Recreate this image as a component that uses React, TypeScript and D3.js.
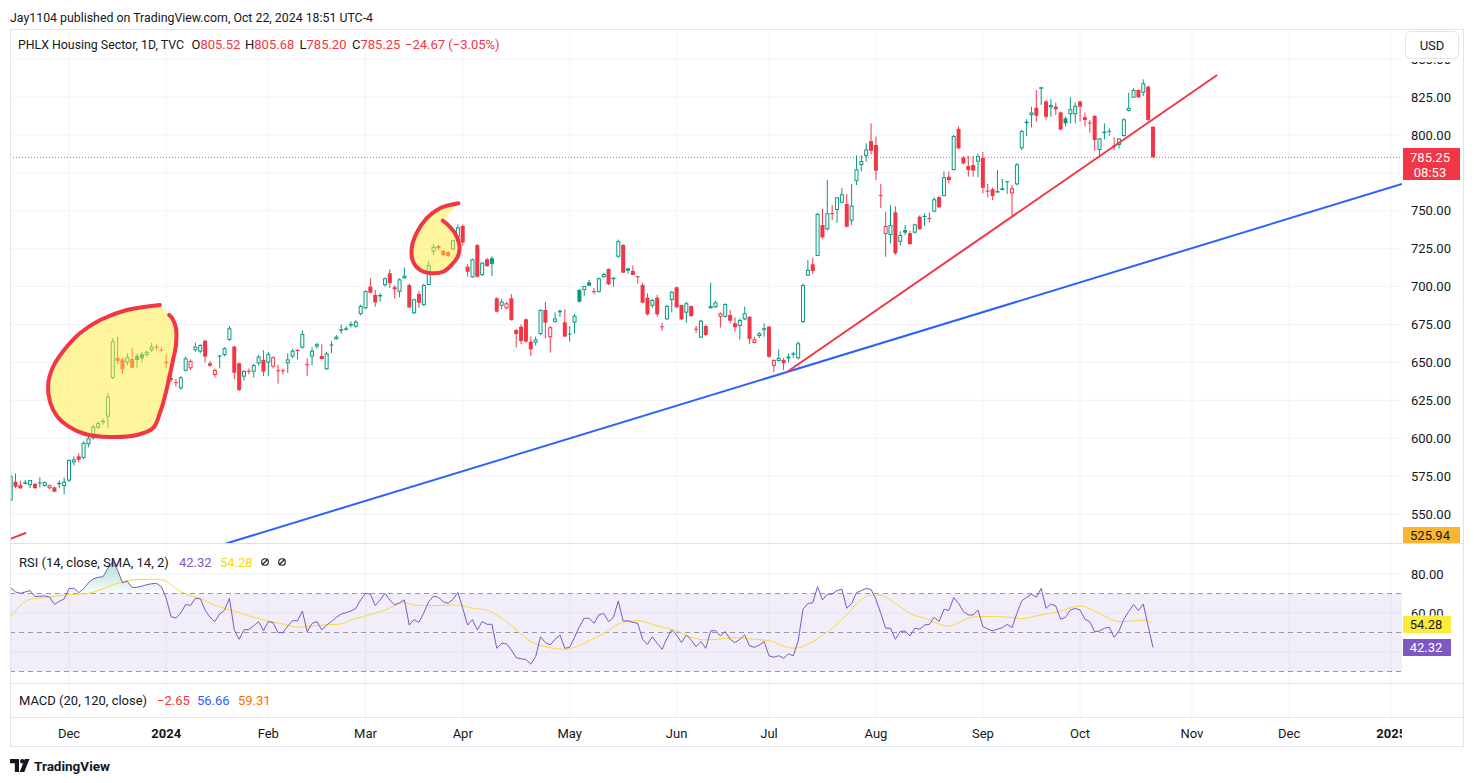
import React from 'react';
import * as d3 from 'd3';

// ---------- DATA ----------
// [open, high, low, close] per daily bar, first bar = Nov 14 2023, last = Oct 22 2024
const ohlc: [number, number, number, number][] = [
  [559, 578, 558, 575], [571.3, 576.8, 567, 568], [569, 572, 566.5, 567], [570.5, 572.4, 569.5, 570.9], [569, 572.6, 567, 572.4],
  [569.8, 570.5, 566.8, 567], [570.8, 574.2, 567.5, 570.6], [568.5, 571.5, 568, 571], [567, 569.5, 566.5, 569], [567.6, 568, 564.5, 564.7],
  [570.4, 572, 567, 570.6], [568.5, 574, 563, 571.3], [572, 586, 571, 585.6], [584, 588, 582, 586], [588, 590, 584, 585.8],
  [587, 598, 586, 597], [596, 602, 594, 600], [600, 609, 599, 607.6], [607, 611, 606, 610], [610.5, 613, 609, 611.5],
  [614.2, 629.8, 607, 627.4], [639.7, 666, 639, 664], [653, 667, 649, 651], [652, 653, 642.4, 645.5], [650, 656, 648, 653.4],
  [652.2, 659.7, 646, 646.5], [654.4, 656, 646.5, 651.6], [655.5, 657, 650, 652.7], [654.9, 658, 654, 657], [658.1, 663, 657, 660.4],
  [660.5, 662, 658, 659.7], [658.5, 660, 657, 658], [650.5, 654.9, 646.3, 649.4], [639.5, 643, 637, 638.4], [637, 639, 634, 636.4],
  [632.9, 641, 632, 640.2], [644.5, 654, 644, 652.7], [646.1, 652, 645, 651], [658, 663, 657, 660.4], [657, 662, 656, 661.5],
  [664.3, 665, 650, 653.8], [649.4, 651, 647, 647.8], [641.7, 646, 640, 645], [654.5, 655, 646.1, 653.8], [654.9, 660, 654, 659.4],
  [664.8, 674, 664, 672.5], [660.4, 661, 639, 643.2], [649.4, 650, 631, 631.8], [640.6, 645, 638, 644.3], [644.5, 646, 642, 643.9],
  [643.9, 649, 640, 648.3], [649.4, 655, 648, 653.8], [651.6, 658, 641, 643.9], [649.8, 657, 641, 655.5], [647.2, 654, 646, 653.4],
  [644.8, 648.5, 636, 644.5], [644.8, 646, 642, 644.3], [649.4, 656, 643, 652], [653.8, 659, 653, 657.7], [658.3, 658.5, 652, 657.5],
  [659.7, 671, 659, 668.7], [648.8, 652.7, 641, 648.3], [653.8, 660, 648, 657.7], [660.4, 663, 659, 662], [654.2, 662, 652, 652.2],
  [645.5, 657, 645, 656], [661.8, 664, 656, 661.3], [665.3, 668, 665, 667], [671.5, 675, 669, 671.9], [672.2, 674, 671, 672.5],
  [675, 677, 673, 675.3], [673.6, 678, 673, 676.9], [681.9, 688, 681, 687.2], [685.7, 697.5, 685, 697], [700, 705.5, 695.6, 696],
  [694.5, 697.8, 686.7, 689.6], [694.3, 695.6, 690, 694.5], [701, 706, 700, 705.5], [708.8, 711.4, 698.9, 702.2], [699.6, 701, 692, 698.2],
  [696.6, 705.5, 693, 704.8], [705.5, 712.7, 705, 707.2], [701, 702, 686, 686.3], [682.4, 692, 682, 691.6], [695.1, 697, 686, 689.4],
  [687.9, 702, 687, 701], [701, 717, 701, 714.2], [723, 728, 721, 726.3], [726.8, 727.5, 724, 725.3], [723.7, 724, 720, 720.8],
  [722.8, 723.5, 719.5, 720.2], [724.6, 731, 724, 730.7], [732.5, 741, 730, 739.1], [740, 741, 727, 729], [713.1, 714.7, 706.5, 709.8],
  [706.1, 718.5, 706, 718], [727.4, 728, 706, 706.5], [707.6, 716, 707, 715.8], [718, 719, 713, 713.6], [718.7, 720, 707, 715],
  [692.3, 693, 683, 683.5], [687.3, 692, 685, 690.1], [685.7, 690, 685, 689], [692.3, 695, 677.5, 678], [671.4, 672, 660, 668.7],
  [673.6, 675, 662, 664.1], [678.4, 679, 663, 663.7], [663.7, 667, 654, 658.6], [663, 667, 661, 665.2], [668.7, 685, 668, 684.6],
  [684.6, 690, 666, 676.2], [666.6, 674, 656.4, 673.2], [676.8, 683, 676, 679], [683.8, 685, 680, 684], [676.4, 685, 667, 667],
  [669, 674, 663.7, 668.7], [676.2, 682, 669, 680.8], [697.8, 698.5, 689.5, 690], [697.8, 700.5, 694, 700.4], [702.8, 704.5, 700.5, 700.6],
  [697, 699, 695, 696.6], [696.6, 706, 696, 705.5], [706.2, 709, 706, 708.3], [711.6, 712, 701, 701.5], [705.7, 706, 700, 705.9],
  [719.7, 731, 719, 729.9], [727.4, 728, 709, 709.2], [712, 712.5, 708.5, 710.5], [710.3, 714, 707.5, 707.7], [706.8, 707, 702, 706.5],
  [701, 702.5, 689, 689.4], [692.7, 695.5, 681, 681.7], [687.3, 692, 686, 691.2], [692.7, 694.5, 680, 681.7], [673.8, 676, 671, 673.6],
  [678.4, 688, 678, 687.2], [691.2, 697, 683, 696.6], [699.6, 700, 686, 686.3], [687.9, 688, 678, 678.4], [682.8, 690, 676, 689],
  [687.2, 687.5, 680, 680.6], [672.2, 674, 669.5, 671.9], [666.3, 678, 666, 677.5], [674, 675, 667.5, 668.1], [685.7, 702.6, 685.5, 687.2],
  [686.4, 690.5, 686, 689.6], [680.1, 683, 673, 682.4], [680.1, 689, 679.5, 688.5], [681.3, 684.7, 675.8, 677.5], [675.8, 679.7, 670.2, 673.2],
  [674, 679, 665, 678], [678.4, 686.8, 677.8, 682.4], [680.1, 680.5, 662, 665.5], [662.8, 667, 662.5, 665.2], [667.4, 670, 666, 669.2],
  [672.3, 675.8, 666.9, 672.5], [673.6, 674, 653, 653.8], [647.6, 652, 643.6, 651.6], [650.9, 658.6, 650.5, 653], [651.6, 653, 645, 649.4],
  [653.8, 656, 650, 652.7], [655.8, 657, 653, 656], [652.7, 664, 652, 662.6], [676.6, 702, 676, 701], [707.2, 717.5, 707, 711],
  [714.7, 719, 708.3, 710.3], [720.2, 748.5, 720, 747.9], [740.6, 751.3, 731.6, 732.5], [737.8, 770.3, 737, 748.3], [748.5, 753.8, 743.9, 748],
  [750.5, 759, 742, 758.9], [755.3, 765, 755, 760.9], [754.5, 761, 739, 739.5], [743.5, 767.7, 740.6, 753.4], [769.7, 786.6, 767, 777.3],
  [780.2, 786.5, 776, 782.8], [786.1, 794.5, 782.4, 790.5], [796, 807.7, 787, 789.6], [793.4, 799, 770.3, 776.5], [760.3, 767.7, 751.8, 760],
  [734.7, 749.4, 719.7, 740], [734, 753.8, 728.6, 740.6], [749, 753, 721, 722], [729.6, 736.5, 727, 734], [737.3, 740.6, 734, 735.6],
  [735.2, 736.8, 727.5, 728.1], [735.6, 741.5, 735, 741.1], [746.1, 747, 737.5, 737.8], [746.6, 748.4, 740, 746.1], [745.3, 749, 742.5, 745],
  [749.4, 759, 749, 757.6], [759, 760, 751.8, 752.3], [759.8, 776, 759.5, 772.1], [772.5, 776, 768, 770.3], [776.9, 800, 776.5, 799.3],
  [804, 805.7, 790.5, 791.2], [785, 786, 780.5, 781.3], [779.6, 786.1, 772.5, 776.9], [780.2, 786.1, 772.5, 776.5], [782.4, 787.7, 772.2, 786.1],
  [785, 788.8, 761.5, 765.2], [763.3, 767.7, 758.9, 763], [764.2, 765.3, 757, 759.8], [762.8, 776.9, 762, 763], [764.8, 771, 763.5, 763.7],
  [769.5, 769.6, 761.1, 769.2], [761.5, 767, 746.1, 764.8], [767.4, 781.6, 766.8, 780.6], [791.2, 803.5, 790, 802.6], [808.6, 810.4, 799.3, 808.8],
  [813.2, 818.6, 805, 814.9], [818, 829.7, 808.8, 812.7], [831.3, 831.6, 819.8, 831.5], [822.1, 823, 810, 812], [818.3, 823.7, 812, 819.8],
  [818.7, 821.3, 813.2, 817], [814.9, 815.5, 803, 803.7], [811, 812.3, 805.6, 807.7], [813.7, 824.9, 807.7, 817], [813.7, 821.4, 807.7, 819.3],
  [822.1, 822.5, 809, 818.7], [811.7, 814.9, 805.6, 809.9], [808.2, 809.9, 801.6, 808], [812.7, 812.9, 789.7, 796.7], [790.1, 798, 785.3, 797.8],
  [802, 807.7, 797.1, 802.2], [802.8, 804.4, 799.5, 802.3], [793, 798.4, 789.9, 792.7], [793.4, 798, 791.2, 797.8], [799.3, 811, 799, 810.4],
  [815.8, 827.9, 815.5, 818], [824.6, 830.8, 824.5, 829.7], [829.7, 830, 824.5, 824.9], [827.9, 836.7, 825.7, 834.1], [831.9, 832.5, 809.4, 809.92],
  [805.52, 805.68, 785.2, 785.25],
];

// RSI(14) per bar
const rsi: number[] = [
  73, 70.8, 70.1, 70.8, 71.5, 68.4, 68.6, 68.8, 68.2, 64.4,
  66, 67.2, 72.5, 72.7, 70.4, 72.5, 75.5, 77.5, 78.3, 78.6,
  82.9, 86.3, 82, 75.5, 76.3, 73, 73.2, 73.8, 74.5, 75,
  75.2, 73.5, 67.5, 58.1, 57.4, 60, 64.4, 63.8, 67.5, 67.3,
  61.5, 57.8, 55.6, 59.5, 61.5, 67.5, 51.5, 46.5, 51.3, 51.6,
  53.5, 55.6, 51, 55.6, 55, 49.9, 49.9, 53.3, 56.1, 56,
  61, 50.4, 54.7, 55.6, 51.3, 53.8, 55.6, 57.8, 59.5, 60.2,
  61, 62.4, 66.7, 70.1, 69.6, 63.8, 66.7, 70.1, 66.7, 64.1,
  65.3, 66.7, 53.8, 56.6, 55.2, 60.2, 65.8, 68.7, 68, 65.8,
  65, 67, 70.6, 62.4, 53.8, 56.6, 51.3, 55.6, 54.2, 54.2,
  41.9, 44.5, 44.2, 41, 37.1, 36.5, 36.2, 33.8, 37.6, 47.8,
  44.8, 43.6, 46.5, 48.7, 41.9, 42.4, 47.5, 53, 57.3, 57.3,
  54.7, 59, 59.8, 55.6, 57.8, 66.2, 55.9, 56, 55.2, 54.7,
  46.5, 43.9, 47.8, 44.4, 41.4, 47, 51.3, 48.7, 44.8, 48.7,
  46.2, 42.7, 45.3, 41.9, 50.8, 51, 48.2, 50.5, 46.5, 44.8,
  46.5, 48.7, 43.1, 42.4, 43.6, 45.3, 38.1, 37.3, 38.1, 36.8,
  39, 38.1, 45.6, 61.9, 64.9, 65.2, 73.5, 66.7, 69.6, 69.7,
  71.5, 72.2, 62.4, 64.9, 70.4, 71.5, 72.6, 72.1, 67, 59.8,
  52.2, 52.2, 46.5, 50.5, 50.8, 48.2, 52.2, 51.7, 53.8, 54.2,
  57.8, 55.6, 61.9, 61.3, 67.9, 65, 60.7, 59, 59, 61.5,
  53, 51.8, 50.8, 51.7, 52.5, 54.2, 52.5, 59.8, 66.2, 68.1,
  69.6, 68.1, 72.6, 62.4, 64.6, 63.6, 56.8, 57.8, 61.5, 62.4,
  61.5, 56.8, 55.6, 50.4, 50.8, 52.2, 52.7, 47.5, 50.8, 56.8,
  60.7, 64.4, 61.2, 64.6, 53.3, 42.32,
];

// RSI-based SMA(14), read at bar indices
const rsiMaIdx: number[] = [0, 4, 7, 11, 16, 18, 21, 24, 27, 30, 32, 34, 36, 39, 42, 46, 49, 53, 56, 59, 63, 68, 70, 73, 77, 81, 83, 87, 92, 95, 98, 100, 102, 104, 107, 110, 114, 116, 120, 123, 125, 129, 133, 137, 140, 143, 149, 153, 156, 161, 165, 169, 172, 175, 177, 179, 182, 185, 188, 193, 195, 198, 202, 206, 208, 211, 216, 220, 224, 228, 231, 233, 235];
const rsiMaVal: number[] = [58.1, 67, 67.9, 69.2, 70.1, 71.5, 74.4, 76.6, 77.3, 77.3, 76.3, 72.6, 69.7, 67.5, 64.1, 61, 58.5, 55.9, 54.4, 52.7, 53.6, 54.4, 56.4, 58.5, 61.5, 65.3, 64.1, 63.8, 64.1, 62.4, 61.5, 59, 55.6, 51.3, 45.3, 42.7, 41.4, 42.4, 47, 50.8, 54.4, 56.1, 53.3, 50.9, 47.5, 46.2, 47.3, 46.5, 45.8, 41.9, 45.3, 52.2, 59, 67, 69.2, 69, 65, 59.8, 57.3, 53.3, 55, 58, 58.2, 57.6, 57.1, 58.5, 61, 63.6, 59.8, 55.6, 55.9, 56.4, 54.28];

// time axis (bar index of the first trading day of each month)
const monthLabels = ['Dec', '2024', 'Feb', 'Mar', 'Apr', 'May', 'Jun', 'Jul', 'Aug', 'Sep', 'Oct', 'Nov', 'Dec', '2025'];
const monthIdx = [12, 32, 53, 73, 93, 115, 137, 156, 178, 200, 220, 243, 263, 284];
const priceTicks = [550, 575, 600, 625, 650, 675, 700, 725, 750, 775, 800, 825, 850];
const priceLabelTicks = [550, 575, 600, 625, 650, 675, 700, 725, 750, 800, 825, 850];
const rsiGrid = [80, 60, 40];
const rsiBands = [70, 50, 30];

// drawings (bar index, price)
const redTrend: [number, number][] = [[159.7, 643.7], [248.2, 839.6]];
const blueTrend: [number, number][] = [[0, 487.1], [286.2, 767.7]];
const redStub: [number, number][] = [[-0.2, 533.4], [3.2, 537.6]];
const blob1: [number, number][] = [
  [30.7, 687.9], [23.9, 684.6], [18.4, 678], [14.3, 669.4], [11, 658.2], [8.7, 647], [7.7, 635.1], [8.1, 623.9],
  [9.5, 614.6], [11.8, 608], [15.3, 602.8], [20.4, 600.8], [26, 602.1], [29.3, 606.7], [30.7, 616.6], [31.8, 628.5],
  [32.6, 639.7], [33.4, 651.6], [34, 661.5], [34, 672.7], [33.2, 679.3], [32.6, 681.3],
];
const blob2: [number, number][] = [
  [92.1, 755], [88.3, 751.7], [85.6, 745.1], [83.5, 735.2], [82.5, 725.3], [82.8, 716.4], [84.2, 711], [86.6, 708.8],
  [89, 709.8], [90.7, 714.3], [92.1, 720.8], [92.3, 727.4], [91.4, 735.2], [90, 740.6], [88.9, 743.5],
];

const lastClose = 785.25;
const yellowTag = 525.94;
const rsiLast = 42.32;
const rsiMaLast = 54.28;

const FONT = "Roboto, 'Liberation Sans', Arial, sans-serif";
const GREEN = '#089981';
const RED = '#f23645';
const TXT = '#131722';
const GRID = '#f0f3fa';
const BORDER = '#e0e3eb';

export default function App() {
  const W = 1474, H = 783;
  const L = 10, R = 1402, AX = 1464;
  const pTop = 29, pBot = 543, rTop = 544, rBot = 683, mBot = 717, tBot = 746;

  const x = d3.scaleLinear().domain([0, 284]).range([10.67, 10.67 + 284 * 4.861]);
  const y = d3.scaleLinear().domain([550, 850]).range([514, 59.2]);
  const yr = d3.scaleLinear().domain([30, 80]).range([671.5, 574]);

  const rsiLine = d3.line<number>().x((_, i) => x(i)).y(v => yr(v));
  const rsiArea = d3.area<number>().x((_, i) => x(i)).y0(yr(70)).y1(v => yr(v));
  const maLine = d3.line<number>().x((_, k) => x(rsiMaIdx[k])).y(v => yr(v)).curve(d3.curveMonotoneX);
  const seg = d3.line<[number, number]>().x(d => x(d[0])).y(d => y(d[1]));
  const blobLine = d3.line<[number, number]>().x(d => x(d[0])).y(d => y(d[1])).curve(d3.curveCatmullRom.alpha(0.5));

  const candles = ohlc.map(([o, h, l, c], i) => {
    const prev = i > 0 ? ohlc[i - 1][3] : o;
    const col = c >= prev ? GREEN : RED;
    const cx = x(i);
    const top = y(Math.max(o, c));
    const bot = y(Math.min(o, c));
    const bh = Math.max(1, bot - top);
    const hollow = c > o;
    return (
      <g key={i}>
        <line x1={cx} x2={cx} y1={y(h)} y2={y(l)} stroke={col} strokeWidth={1} />
        {hollow ? (
          <rect x={cx - 1.5} y={top + 0.5} width={3} height={Math.max(0.5, bh - 1)} fill="#fff" stroke={col} strokeWidth={1} />
        ) : (
          <rect x={cx - 2} y={top} width={4} height={bh} fill={col} />
        )}
      </g>
    );
  });

  const fs = 13;

  return (
    <svg width={W} height={H} style={{ position: 'absolute', left: 0, top: 0, background: '#fff' }} fontFamily={FONT}>
      <defs>
        <clipPath id="pClip"><rect x={L} y={pTop} width={R - L} height={pBot - pTop} /></clipPath>
        <clipPath id="rClip"><rect x={L} y={rTop} width={R - L} height={rBot - rTop} /></clipPath>
        <clipPath id="obClip"><rect x={L} y={rTop} width={R - L} height={yr(70) - rTop} /></clipPath>
        <clipPath id="tClip"><rect x={L} y={mBot} width={R - L} height={tBot - mBot} /></clipPath>
        <clipPath id="r60Clip"><rect x={R} y={590} width={AX - R} height={25.5} /></clipPath>
        <linearGradient id="obGrad" gradientUnits="userSpaceOnUse" x1="0" x2="0" y1={yr(88)} y2={yr(70)}>
          <stop offset="0" stopColor={GREEN} stopOpacity={0.35} />
          <stop offset="1" stopColor={GREEN} stopOpacity={0.03} />
        </linearGradient>
      </defs>
      <rect width={W} height={H} fill="#fff" />

      {/* header */}
      <text x={10} y={17} fontSize={12.5} fill={TXT} dominantBaseline="central" textLength={363} lengthAdjust="spacingAndGlyphs">Jay1104 published on TradingView.com, Oct 22, 2024 18:51 UTC-4</text>

      {/* grid */}
      {priceTicks.map(p => (
        <line key={'pg' + p} x1={L} x2={R} y1={y(p)} y2={y(p)} stroke={GRID} strokeWidth={1} />
      ))}
      {rsiGrid.map(v => (
        <line key={'rg' + v} x1={L} x2={R} y1={yr(v)} y2={yr(v)} stroke={GRID} strokeWidth={1} />
      ))}
      {monthIdx.map((m, k) => (
        <line key={'vg' + k} x1={x(m)} x2={x(m)} y1={pTop} y2={mBot} stroke={GRID} strokeWidth={1} />
      ))}

      {/* price pane */}
      <g clipPath="url(#pClip)">
        {candles}
        <line x1={L} x2={R} y1={y(lastClose)} y2={y(lastClose)} stroke={RED} strokeWidth={1} strokeDasharray="1 2" opacity={0.8} />
        <path d={seg(blueTrend) || ''} stroke="#2962ff" strokeWidth={2} fill="none" />
        <path d={seg(redTrend) || ''} stroke={RED} strokeWidth={2} fill="none" />
        <path d={seg(redStub) || ''} stroke={RED} strokeWidth={2} fill="none" />
        <path d={(blobLine(blob1) || '') + 'Z'} fill="rgba(255,235,59,0.5)" stroke="none" />
        <path d={blobLine(blob1) || ''} fill="none" stroke={RED} strokeWidth={4} strokeLinecap="round" strokeLinejoin="round" />
        <path d={(blobLine(blob2) || '') + 'Z'} fill="rgba(255,235,59,0.5)" stroke="none" />
        <path d={blobLine(blob2) || ''} fill="none" stroke={RED} strokeWidth={4} strokeLinecap="round" strokeLinejoin="round" />
      </g>

      {/* legend */}
      <text x={18} y={44} fontSize={12.5} dominantBaseline="central" fill={TXT} textLength={166} lengthAdjust="spacingAndGlyphs">PHLX Housing Sector, 1D, TVC</text>
      <text y={44} fontSize={fs} dominantBaseline="central" fill={TXT}>
        <tspan x={191.5}>O</tspan><tspan fill={RED}>805.52</tspan>
        <tspan x={245}>H</tspan><tspan fill={RED}>805.68</tspan>
        <tspan x={299.5}>L</tspan><tspan fill={RED}>785.20</tspan>
        <tspan x={352}>C</tspan><tspan fill={RED}>785.25</tspan>
        <tspan x={405} fill={RED}>−24.67 (−3.05%)</tspan>
      </text>

      {/* RSI pane */}
      <rect x={L} y={yr(70)} width={R - L} height={yr(30) - yr(70)} fill="rgba(126,87,194,0.1)" />
      {rsiBands.map(v => (
        <line key={'rb' + v} x1={L} x2={R} y1={yr(v)} y2={yr(v)} stroke="#787b86" strokeWidth={1} strokeDasharray="5 4" opacity={0.75} />
      ))}
      <g clipPath="url(#rClip)">
        <g clipPath="url(#obClip)">
          <path d={rsiArea(rsi) || ''} fill="url(#obGrad)" />
        </g>
        <path d={maLine(rsiMaVal) || ''} fill="none" stroke="#fdd835" strokeWidth={1} />
        <path d={rsiLine(rsi) || ''} fill="none" stroke="#7e57c2" strokeWidth={1} />
      </g>
      <text y={562} fontSize={fs} dominantBaseline="central" fill={TXT}>
        <tspan x={19}>RSI (14, close, SMA, 14, 2)</tspan>
        <tspan x={179} fill="#7e57c2">{rsiLast.toFixed(2)}</tspan>
        <tspan x={220} fill="#f5d90a">{rsiMaLast.toFixed(2)}</tspan>
      </text>
      {[265, 282].map(cx => (
        <g key={'ic' + cx} stroke={TXT} strokeWidth={1.1} fill="none">
          <circle cx={cx} cy={562} r={3.3} />
          <line x1={cx - 3} y1={565} x2={cx + 3} y2={559} />
        </g>
      ))}

      {/* MACD legend */}
      <text y={700} fontSize={fs} dominantBaseline="central" fill={TXT}>
        <tspan x={19}>MACD (20, 120, close)</tspan>
        <tspan x={157} fill={RED}>−2.65</tspan>
        <tspan x={197} fill="#2962ff">56.66</tspan>
        <tspan x={238} fill="#ff6d00">59.31</tspan>
      </text>

      {/* time axis */}
      <g clipPath="url(#tClip)">
        {monthLabels.map((lab, k) => (
          <text key={'ml' + k} x={x(monthIdx[k])} y={733} fontSize={fs} textAnchor="middle" dominantBaseline="central"
            fill={TXT} fontWeight={lab.length === 4 ? 700 : 400}>{lab}</text>
        ))}
      </g>

      {/* price axis labels */}
      {priceLabelTicks.map(p => (
        <text key={'pl' + p} x={1411} y={y(p)} fontSize={fs} dominantBaseline="central" fill={TXT}>{p.toFixed(2)}</text>
      ))}
      <rect x={R + 1} y={pTop + 1} width={AX - R - 2} height={32} fill="#fff" />
      <rect x={1405.5} y={31.5} width={53} height={27} rx={5} fill="#fff" stroke={BORDER} />
      <text x={1432} y={45} fontSize={fs} textAnchor="middle" dominantBaseline="central" fill={TXT}>USD</text>

      <rect x={R + 1} y={148} width={57} height={32} fill={RED} />
      <text x={1430} y={157.5} fontSize={fs} textAnchor="middle" dominantBaseline="central" fill="#fff">{lastClose.toFixed(2)}</text>
      <text x={1430} y={172} fontSize={fs} textAnchor="middle" dominantBaseline="central" fill="#fff">08:53</text>
      <rect x={R + 1} y={527} width={57} height={16} fill="#f9b62e" />
      <text x={1430} y={535.5} fontSize={fs} textAnchor="middle" dominantBaseline="central" fill={TXT}>{yellowTag.toFixed(2)}</text>

      {/* RSI axis labels */}
      <text x={1411} y={yr(80)} fontSize={fs} dominantBaseline="central" fill={TXT}>80.00</text>
      <g clipPath="url(#r60Clip)">
        <text x={1411} y={yr(60)} fontSize={fs} dominantBaseline="central" fill={TXT}>60.00</text>
      </g>
      <rect x={R + 1} y={616} width={48} height={17} fill="#fdeb3b" />
      <text x={1426} y={624.5} fontSize={fs} textAnchor="middle" dominantBaseline="central" fill={TXT}>{rsiMaLast.toFixed(2)}</text>
      <rect x={R + 1} y={639} width={48} height={17} fill="#7e57c2" />
      <text x={1426} y={647.5} fontSize={fs} textAnchor="middle" dominantBaseline="central" fill="#fff">{rsiLast.toFixed(2)}</text>

      {/* frame */}
      <line x1={L} x2={AX} y1={pTop + 0.5} y2={pTop + 0.5} stroke={BORDER} />
      <line x1={L} x2={AX} y1={pBot + 0.5} y2={pBot + 0.5} stroke={BORDER} />
      <line x1={L} x2={AX} y1={rBot + 0.5} y2={rBot + 0.5} stroke={BORDER} />
      <line x1={L} x2={AX} y1={mBot + 0.5} y2={mBot + 0.5} stroke={BORDER} />
      <line x1={L} x2={AX} y1={tBot + 0.5} y2={tBot + 0.5} stroke={BORDER} />
      <line x1={L + 0.5} x2={L + 0.5} y1={pTop} y2={tBot + 1} stroke={BORDER} />
      <line x1={AX - 0.5} x2={AX - 0.5} y1={pTop} y2={tBot + 1} stroke={BORDER} />

      {/* footer logo */}
      <g fill={TXT}>
        <path d="M10 759h9v13h-4.2v-8.8H10z" />
        <circle cx={22.2} cy={761.2} r={2.2} />
        <path d="M24.8 759h4.7l-5.2 13h-4.6z" />
      </g>
      <text x={34} y={765.5} fontSize={13.5} fontWeight={700} dominantBaseline="central" fill={TXT}>TradingView</text>
    </svg>
  );
}
